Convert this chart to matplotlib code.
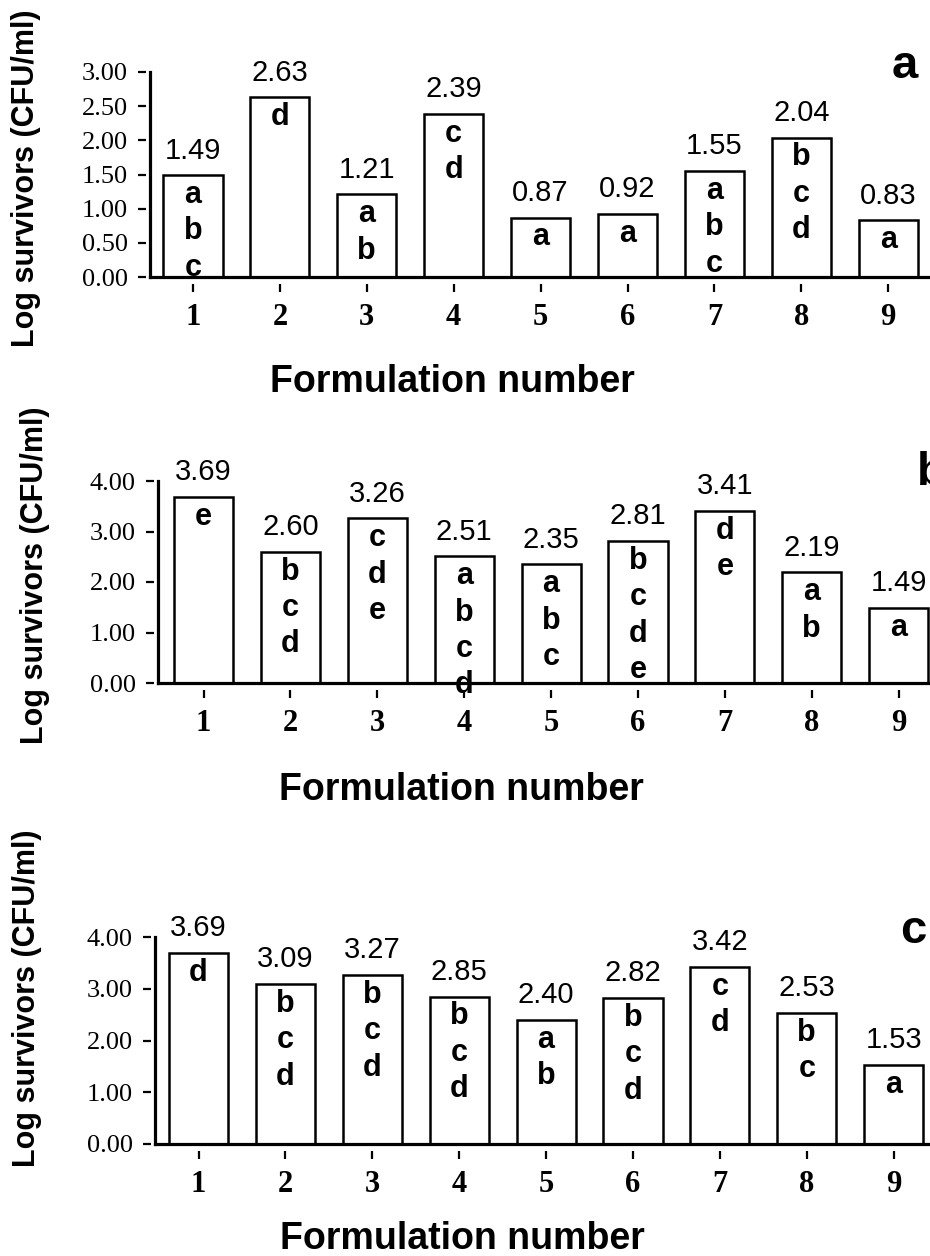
import matplotlib.pyplot as plt

# formulation numbers on the x axis
formulations = [1, 2, 3, 4, 5, 6, 7, 8, 9]

# panel a
survivors_a = [1.49, 2.63, 1.21, 2.39, 0.87, 0.92, 1.55, 2.04, 0.83]
groups_a = ["abc", "d", "ab", "cd", "a", "a", "abc", "bcd", "a"]
yticks_a = [0.0, 0.5, 1.0, 1.5, 2.0, 2.5, 3.0]

# panel b
survivors_b = [3.69, 2.60, 3.26, 2.51, 2.35, 2.81, 3.41, 2.19, 1.49]
groups_b = ["e", "bcd", "cde", "abcd", "abc", "bcde", "de", "ab", "a"]
yticks_b = [0.0, 1.0, 2.0, 3.0, 4.0]

# panel c
survivors_c = [3.69, 3.09, 3.27, 2.85, 2.40, 2.82, 3.42, 2.53, 1.53]
groups_c = ["d", "bcd", "bcd", "bcd", "ab", "bcd", "cd", "bc", "a"]
yticks_c = [0.0, 1.0, 2.0, 3.0, 4.0]

W, H = 930, 1256
SANS = "Liberation Sans"
SERIF = "Liberation Serif"
STEP = 86.9  # pixels between bar centres

fig = plt.figure(figsize=(W / 100, H / 100), dpi=100)


def draw_panel(vals, groups, yticks, letter, left, x1, ybot, ytop, xlab_pos, ylab_pos, letter_pos):
    x_left = 1 - (x1 - left) / STEP
    x_right = 9.5
    right = x1 + (x_right - 1) * STEP
    ax = fig.add_axes([left / W, (H - ybot) / H, (right - left) / W, (ybot - ytop) / H])
    ax.set_xlim(x_left, x_right)
    ax.set_ylim(0, yticks[-1])

    ax.bar(formulations, vals, width=0.68, color="white", edgecolor="black",
           linewidth=1.8, zorder=2)

    for x, v, g in zip(formulations, vals, groups):
        ax.annotate(f"{v:.2f}", (x, v), xytext=(0, 12), textcoords="offset points",
                    ha="center", va="baseline", fontsize=21, family=SANS,
                    annotation_clip=False)
        ax.annotate("\n".join(g), (x, v), xytext=(0, -3.5), textcoords="offset points",
                    ha="center", va="top", fontsize=22, fontweight="bold", family=SANS,
                    linespacing=1.28, annotation_clip=False, zorder=3)

    # axis lines drawn by hand so the ticks can sit a little apart from them
    for s in ["top", "right", "left", "bottom"]:
        ax.spines[s].set_visible(False)
    ax.spines["bottom"].set_position(("outward", 5))
    ax.spines["left"].set_position(("outward", 3))
    ax.axhline(0, color="black", lw=2.3, clip_on=False, zorder=4, solid_capstyle="projecting")
    ax.axvline(x_left, color="black", lw=2.3, clip_on=False, zorder=4, solid_capstyle="projecting")

    ax.set_xticks(formulations)
    ax.set_xticklabels([str(f) for f in formulations], fontsize=22, fontweight="bold", family=SERIF)
    ax.set_yticks(yticks)
    ax.set_yticklabels([f"{t:.2f}" for t in yticks], fontsize=19, family=SERIF)
    ax.tick_params(axis="x", direction="out", length=6, width=1.6, pad=8)
    ax.tick_params(axis="y", direction="out", length=6, width=1.6, pad=7)

    fig.text(xlab_pos[0] / W, 1 - xlab_pos[1] / H, "Formulation number", fontsize=27,
             fontweight="bold", family=SANS, ha="center", va="baseline")
    fig.text(ylab_pos[0] / W, 1 - ylab_pos[1] / H, "Log survivors (CFU/ml)", fontsize=22,
             fontweight="bold", family=SANS, ha="center", va="center", rotation=90)
    fig.text(letter_pos[0] / W, 1 - letter_pos[1] / H, letter, fontsize=34,
             fontweight="bold", family=SANS, ha="left", va="baseline")
    return ax


draw_panel(survivors_a, groups_a, yticks_a, "a", 150, 193, 277, 72,
           (452, 392), (26, 178), (892, 78))
draw_panel(survivors_b, groups_b, yticks_b, "b", 158, 203.5, 683, 481,
           (461, 800), (35, 575), (917, 485))
draw_panel(survivors_c, groups_c, yticks_c, "c", 155, 198.5, 1144, 937,
           (462, 1249), (27, 998), (900, 943))

fig.savefig("out.png", dpi=100)
